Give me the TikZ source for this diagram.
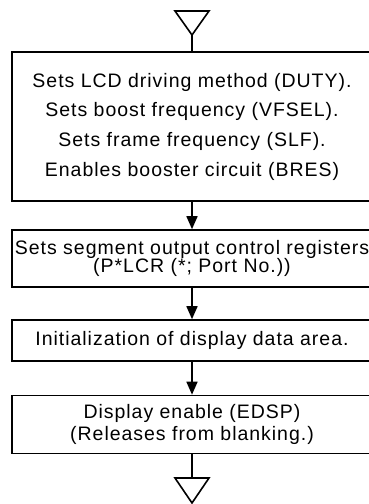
\documentclass[tikz,border=0pt]{standalone}
\usepackage{fontspec}
\setmainfont{Liberation Sans}[LetterSpace=5]
\usetikzlibrary{arrows.meta}

\tikzset{
  procbox/.style={draw, line width=1.6pt, minimum width=360pt, inner sep=0pt, align=center},
  flow/.style={line width=1.6pt, -{Triangle[width=11pt,length=13pt]}},
  termline/.style={line width=1.6pt, line join=miter}
}

\begin{document}
\begin{tikzpicture}[x=1pt,y=-1pt]
  \useasboundingbox (0,0) rectangle (369,504);
  \clip (0,0) rectangle (369,504);

  % start and end marks
  \draw[termline] (175,11) -- (209,11) -- (192,35) -- cycle;
  \coordinate (start) at (192,35);
  \coordinate (stop) at (192,478);
  \draw[termline] (175,478) -- (209,478) -- (192,503) -- cycle;

  \node[procbox, minimum height=149pt, font=\fontsize{19.5}{29.7}\selectfont] (lcdset) at (192,126.5)
    {Sets LCD driving method (DUTY).\\Sets boost frequency (VFSEL).\\Sets frame frequency (SLF).\\Enables booster circuit (BRES)};
  \node[procbox, minimum height=57pt, font=\fontsize{19.5}{18.5}\selectfont] (segctl) at (192,258.5)
    {Sets segment output control registers\\(P*LCR (*; Port No.))};
  \node[procbox, minimum height=41pt, font=\fontsize{19.5}{20}\selectfont] (dispdata) at (192,340.5)
    {Initialization of display data area.};
  \node[procbox, minimum height=58pt, font=\fontsize{19.5}{21.5}\selectfont] (dispen) at (192,424.5)
    {Display enable (EDSP)\\(Releases from blanking.)};

  \draw[termline] (start) -- (lcdset.north);
  \draw[flow] (lcdset) -- (segctl);
  \draw[flow] (segctl) -- (dispdata);
  \draw[flow] (dispdata) -- (dispen);
  \draw[termline] (dispen) -- (stop);
\end{tikzpicture}
\end{document}
